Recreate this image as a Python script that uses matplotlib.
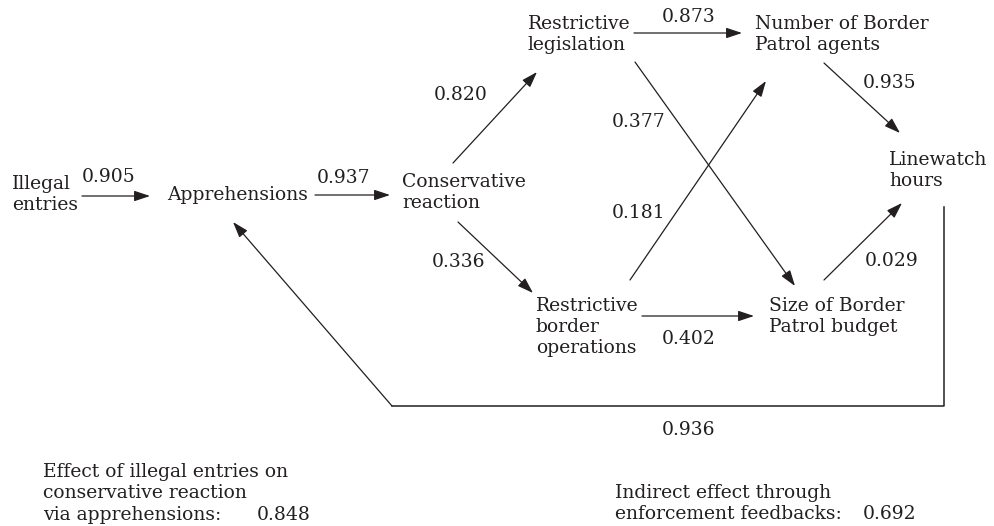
import matplotlib
matplotlib.use("Agg")
import matplotlib.pyplot as plt
from matplotlib.patches import FancyArrowPatch
from matplotlib.lines import Line2D

# ---------------- data ----------------
node_labels = [
    "Illegal\nentries",
    "Apprehensions",
    "Conservative\nreaction",
    "Restrictive\nlegislation",
    "Restrictive\nborder\noperations",
    "Number of Border\nPatrol agents",
    "Size of Border\nPatrol budget",
    "Linewatch\nhours",
]
path_coefs = [0.905, 0.937, 0.820, 0.336, 0.873, 0.377, 0.181, 0.402, 0.935, 0.029, 0.936]
summary_labels = ["Effect of illegal entries on\nconservative reaction\nvia apprehensions:",
                  "Indirect effect through\nenforcement feedbacks:"]
summary_values = [0.848, 0.692]

# ---------------- layout (pixel coords) ----------------
W, H = 995, 526
fig = plt.figure(figsize=(W / 100, H / 100), dpi=100)
ax = fig.add_axes([0, 0, 1, 1])
ax.set_xlim(0, W)
ax.set_ylim(H, 0)
ax.axis("off")

INK = "#231f20"
FONT = "DejaVu Serif"
FS = 13.5
LS = 21.0       # line spacing px
XH = 4.9        # half x-height px (baseline offset)

node_pos = [(12, 184), (167, 195), (402, 182), (528, 24), (536, 306),
            (755, 24), (769, 306), (889, 160)]

def put_lines(x, y0, text, fs=FS, ls=LS):
    for i, line in enumerate(text.split("\n")):
        ax.text(x, y0 + i * ls + XH, line, fontsize=fs, family=FONT,
                color=INK, ha="left", va="baseline")

for (x, y), lab in zip(node_pos, node_labels):
    put_lines(x, y, lab)

coef_pos = [(82, 177), (317, 178), (434, 95), (432, 262), (662, 17),
            (612, 122), (612, 213), (662, 339), (863, 83), (865, 261), (662, 430)]
for (x, y), v in zip(coef_pos, path_coefs):
    ax.text(x, y + XH, f"{v:.3f}", fontsize=FS, family=FONT, color=INK,
            ha="left", va="baseline")

def arrow(p0, p1):
    a = FancyArrowPatch(p0, p1, arrowstyle="-|>,head_length=0.6,head_width=0.2",
                        mutation_scale=16, color=INK, lw=0.9,
                        shrinkA=0, shrinkB=0)
    ax.add_patch(a)

edges = [((82, 196), (150, 196)),
         ((315, 195), (390, 195)),
         ((453, 163), (537, 72)),
         ((458, 222), (533, 293)),
         ((634, 33), (742, 33)),
         ((635, 62), (795, 286)),
         ((630, 280), (766, 81)),
         ((642, 316), (754, 316)),
         ((824, 63), (900, 133)),
         ((824, 280), (902, 203))]
for p0, p1 in edges:
    arrow(p0, p1)

# feedback loop
ax.add_line(Line2D([944, 944, 392], [207, 406, 406], color=INK, lw=1.1))
arrow((392, 406), (233, 222))

# summaries
put_lines(43, 472, summary_labels[0], ls=21.5)
ax.text(257, 515 + XH, f"{summary_values[0]:.3f}", fontsize=FS, family=FONT,
        color=INK, ha="left", va="baseline")
put_lines(615, 493, summary_labels[1], ls=21.5)
ax.text(863, 514 + XH, f"{summary_values[1]:.3f}", fontsize=FS, family=FONT,
        color=INK, ha="left", va="baseline")

fig.savefig("out.png", dpi=100)
